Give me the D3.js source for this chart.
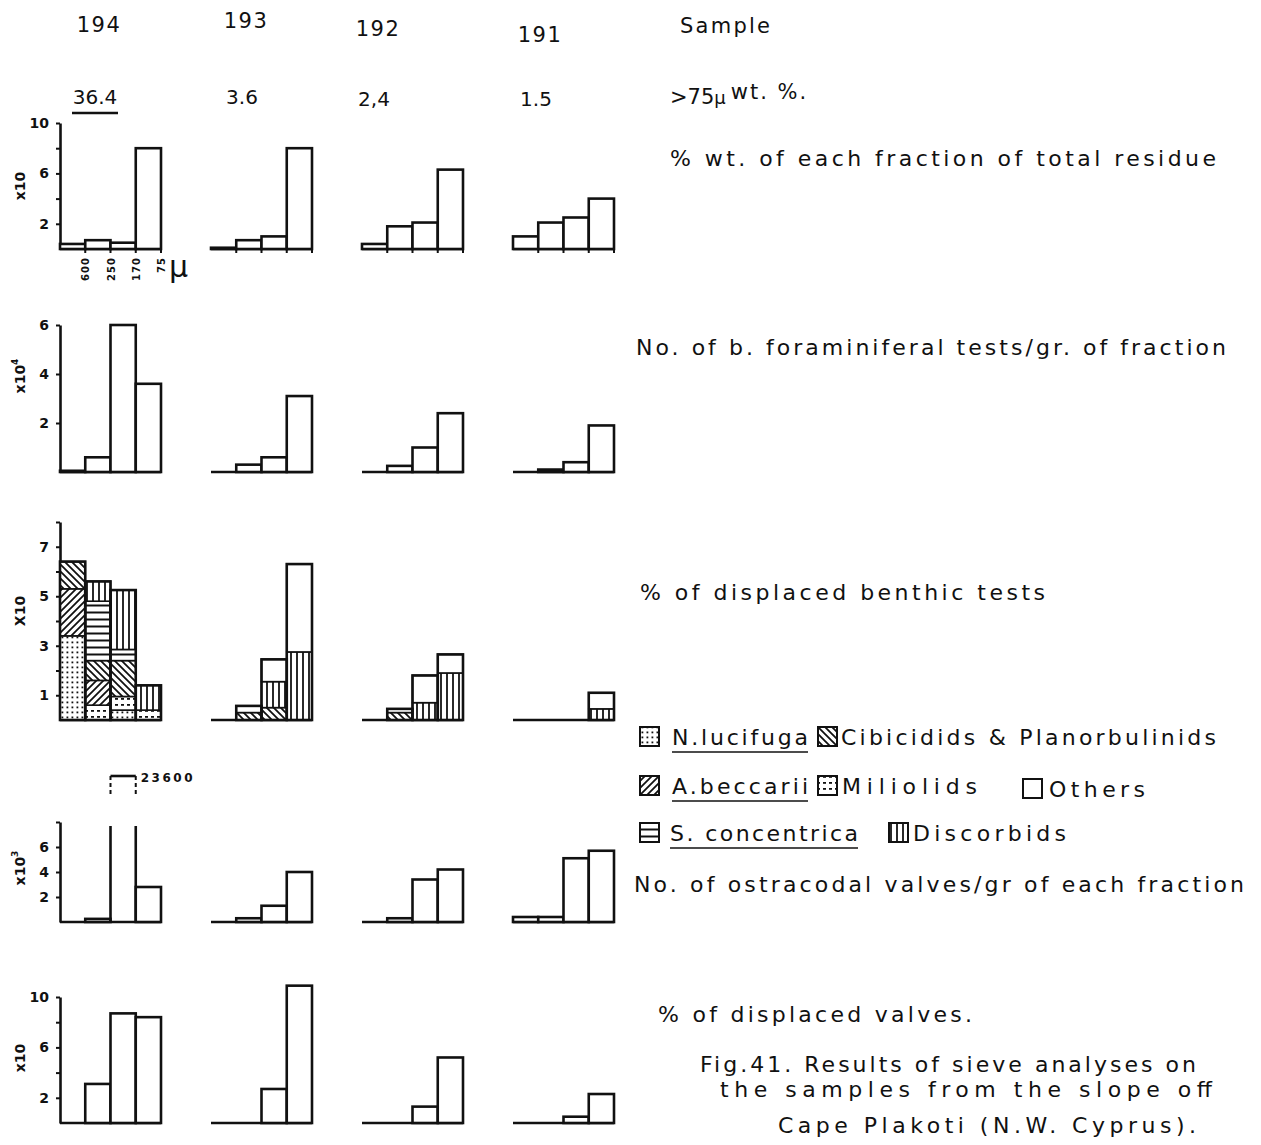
<!DOCTYPE html>
<html>
<head>
<meta charset="utf-8">
<script src="https://cdn.jsdelivr.net/npm/d3@7"></script>
<style>
  html, body { margin: 0; padding: 0; background: #fff; }
  svg { display: block; }
  text { font-family: "DejaVu Sans", "Liberation Sans", sans-serif; fill: #111; }
</style>
</head>
<body>
<svg id="fig" width="1261" height="1145"></svg>
<script>
// ---- data -------------------------------------------------------------
const samples = ["194", "193", "192", "191"];
const coarseWt = ["36.4", "3.6", "2,4", "1.5"];          // >75µ wt. %
const fractions = ["600", "250", "170", "75"];          // sieve sizes, µ

// % wt. of each fraction of total residue (x10), one row per sample
const residueWt = [
  [0.4, 0.7, 0.5, 8.0],
  [0.1, 0.7, 1.0, 8.0],
  [0.4, 1.8, 2.1, 6.3],
  [1.0, 2.1, 2.5, 4.0]
];
// No. of benthic foraminiferal tests / gr. of fraction (x10^4)
const foramTests = [
  [0.05, 0.6, 6.0, 3.6],
  [0, 0.3, 0.6, 3.1],
  [0, 0.25, 1.0, 2.4],
  [0, 0.1, 0.4, 1.9]
];
// % of displaced benthic tests (x10), split by group
const nLucifuga    = [[3.4, 0, 0.4, 0], [0, 0, 0, 0], [0, 0, 0, 0], [0, 0, 0, 0]];
const miliolids    = [[0, 0.6, 0.55, 0.4], [0, 0, 0, 0], [0, 0, 0, 0], [0, 0, 0, 0]];
const aBeccarii    = [[1.9, 1.0, 0, 0], [0, 0, 0, 0], [0, 0, 0, 0], [0, 0, 0, 0]];
const cibicidids   = [[1.1, 0.8, 1.45, 0], [0, 0.3, 0.5, 0], [0, 0.3, 0, 0], [0, 0, 0, 0]];
const sConcentrica = [[0, 2.4, 0.45, 0], [0, 0, 0, 0], [0, 0, 0, 0], [0, 0, 0, 0]];
const discorbids   = [[0, 0.8, 2.4, 1.0], [0, 0, 1.05, 2.75], [0, 0, 0.7, 1.9], [0, 0, 0, 0.45]];
const others       = [[0, 0, 0, 0], [0, 0.27, 0.9, 3.55], [0, 0.15, 1.1, 0.75], [0, 0, 0, 0.65]];
// No. of ostracodal valves / gr of each fraction (x10^3)
const ostracodValves = [
  [0, 0.25, 23.6, 2.8],
  [0, 0.3, 1.3, 4.0],
  [0, 0.3, 3.4, 4.2],
  [0.4, 0.4, 5.1, 5.7]
];
// % of displaced valves (x10)
const displacedValves = [
  [0, 3.1, 8.7, 8.4],
  [0, 0, 2.7, 10.9],
  [0, 0, 1.3, 5.2],
  [0, 0, 0.5, 2.3]
];

const groupKeys = ["nLucifuga", "miliolids", "aBeccarii", "cibicidids", "sConcentrica", "discorbids", "others"];
const groupData = { nLucifuga, miliolids, aBeccarii, cibicidids, sConcentrica, discorbids, others };

// ---- drawing ----------------------------------------------------------
const svg = d3.select("#fig");
const LW = 2.6;

// hatch patterns for the benthic groups
const defs = svg.append("defs");
function pattern(id, size, draw) {
  const p = defs.append("pattern").attr("id", id).attr("patternUnits", "userSpaceOnUse")
    .attr("width", size).attr("height", size);
  p.append("rect").attr("width", size).attr("height", size).attr("fill", "#fff");
  draw(p);
}
pattern("pDots", 5, p => p.append("rect").attr("x", 1.5).attr("y", 1.5).attr("width", 1.8).attr("height", 1.8).attr("fill", "#111"));
pattern("pFwd", 7, p => {
  p.append("path").attr("d", "M-1,8 L8,-1 M-2,2 L2,-2 M5,9 L9,5").attr("stroke", "#111").attr("stroke-width", 1.8);
});
pattern("pBack", 7, p => {
  p.append("path").attr("d", "M-1,-1 L8,8 M5,-2 L9,2 M-2,5 L2,9").attr("stroke", "#111").attr("stroke-width", 1.8);
});
pattern("pHoriz", 7, p => p.append("path").attr("d", "M0,3.5 H7").attr("stroke", "#111").attr("stroke-width", 2));
pattern("pVert", 6, p => p.append("path").attr("d", "M3,0 V6").attr("stroke", "#111").attr("stroke-width", 1.8));
pattern("pMil", 6, p => {
  p.append("rect").attr("x", 1).attr("y", 2).attr("width", 3).attr("height", 1.8).attr("fill", "#111");
});
const groupFill = {
  nLucifuga: "url(#pDots)", miliolids: "url(#pMil)", aBeccarii: "url(#pFwd)",
  cibicidids: "url(#pBack)", sConcentrica: "url(#pHoriz)", discorbids: "url(#pVert)", others: "#fff"
};

// panels: one per sample, four size fractions each
const panelX = d3.scaleLinear().domain([0, samples.length - 1]).range([60, 513]);
const panelW = 101;
function xScale(i) {
  return d3.scaleBand().domain(fractions).range([panelX(i), panelX(i) + panelW]);
}

// rows (layout); "breakAt" marks rows whose off-scale bars are drawn broken
const rows = [
  { data: residueWt, base: 249, top: 123, max: 10, ticks: [2, 4, 6, 8, 10], labels: [2, 6, 10], unit: "x10", sup: "", labelY: 186 },
  { data: foramTests, base: 472, top: 325, max: 6, ticks: [2, 4, 6], labels: [2, 4, 6], unit: "x10", sup: "4", labelY: 376 },
  { data: null, base: 720, top: 522, max: 8, ticks: [1, 2, 3, 4, 5, 6, 7, 8], labels: [1, 3, 5, 7], unit: "X10", sup: "", labelY: 611 },
  { data: ostracodValves, base: 922, top: 822, max: 8, ticks: [2, 4, 6, 8], labels: [2, 4, 6], unit: "x10", sup: "3", labelY: 868, breakAt: 8 },
  { data: displacedValves, base: 1123, top: 997, max: 10, ticks: [2, 4, 6, 8, 10], labels: [2, 6, 10], unit: "x10", sup: "", labelY: 1058 }
];

rows.forEach((row, r) => {
  const y = d3.scaleLinear().domain([0, row.max]).range([row.base, row.top]);
  const g = svg.append("g");

  // y axis on the first panel
  const ax = g.append("g").attr("transform", `translate(${panelX(0)},0)`)
    .call(d3.axisLeft(y).tickValues(row.ticks).tickSize(4).tickSizeOuter(0).tickPadding(7)
      .tickFormat(d => row.labels.includes(d) ? d : ""));
  ax.select(".domain").attr("stroke", "#111").attr("stroke-width", LW);
  ax.selectAll(".tick line").attr("stroke", "#111").attr("stroke-width", 2);
  ax.selectAll(".tick text").attr("font-size", 14).attr("font-weight", "bold")
    .attr("font-family", "DejaVu Sans, sans-serif").attr("fill", "#111");

  // unit label
  const ut = g.append("text").attr("transform", `translate(25,${row.labelY}) rotate(-90)`)
    .attr("text-anchor", "middle").attr("font-size", 14).attr("font-weight", "bold");
  ut.append("tspan").text(row.unit);
  if (row.sup) ut.append("tspan").attr("dy", -7).attr("font-size", 9).text(row.sup);

  samples.forEach((s, i) => {
    const x = xScale(i);
    const pg = g.append("g");
    // baseline
    pg.append("line").attr("x1", x.range()[0]).attr("x2", x.range()[1])
      .attr("y1", row.base).attr("y2", row.base).attr("stroke", "#111").attr("stroke-width", LW);

    if (r === 2) {
      // stacked groups of displaced benthic tests
      const table = fractions.map((f, k) => {
        const o = { fraction: f };
        groupKeys.forEach(key => { o[key] = groupData[key][i][k]; });
        return o;
      });
      const stack = d3.stack().keys(groupKeys)(table);
      stack.forEach(layer => {
        pg.selectAll(null).data(layer.filter(d => d[1] - d[0] > 0)).join("rect")
          .attr("x", d => x(d.data.fraction))
          .attr("width", x.bandwidth())
          .attr("y", d => y(d[1]))
          .attr("height", d => y(d[0]) - y(d[1]))
          .attr("fill", groupFill[layer.key])
          .attr("stroke", "#111").attr("stroke-width", 1.6);
      });
      // outline of each total
      table.forEach(d => {
        const tot = d3.sum(groupKeys, key => d[key]);
        if (tot <= 0) return;
        pg.append("rect").attr("x", x(d.fraction)).attr("width", x.bandwidth())
          .attr("y", y(tot)).attr("height", row.base - y(tot))
          .attr("fill", "none").attr("stroke", "#111").attr("stroke-width", LW);
      });
      return;
    }

    row.data[i].forEach((v, k) => {
      const f = fractions[k];
      if (v <= 0) return;
      if (row.breakAt && v > row.breakAt) {
        // off-scale bar: broken at the top of the axis
        const x0 = x(f), x1 = x(f) + x.bandwidth();
        const yc = y(row.breakAt * 0.96);
        const capY = yc - 50;
        pg.append("path").attr("d", `M${x0},${row.base} V${yc} M${x1},${row.base} V${yc}`)
          .attr("stroke", "#111").attr("stroke-width", LW).attr("fill", "none");
        pg.append("path").attr("d", `M${x0},${yc - 32} V${capY} M${x1},${yc - 32} V${capY}`)
          .attr("stroke", "#111").attr("stroke-width", 2).attr("stroke-dasharray", "4,3").attr("fill", "none");
        pg.append("path").attr("d", `M${x0},${capY} H${x1}`)
          .attr("stroke", "#111").attr("stroke-width", LW);
        pg.append("text").attr("x", x1 + 5).attr("y", capY + 6)
          .attr("font-size", 12).attr("font-weight", "bold").attr("letter-spacing", 2.5)
          .text(Math.round(v * 1000));
        return;
      }
      pg.append("rect").attr("x", x(f)).attr("width", x.bandwidth())
        .attr("y", y(v)).attr("height", row.base - y(v))
        .attr("fill", "#fff").attr("stroke", "#111").attr("stroke-width", LW);
    });

    if (r === 0) {
      // fraction boundary ticks under the first row
      pg.selectAll(null).data(fractions).join("line")
        .attr("x1", f => x(f) + x.bandwidth()).attr("x2", f => x(f) + x.bandwidth())
        .attr("y1", row.base).attr("y2", row.base + 4)
        .attr("stroke", "#111").attr("stroke-width", 2);
      if (i === 0) {
        pg.selectAll(null).data(fractions).join("text")
          .attr("transform", f => `translate(${x(f) + x.bandwidth() + 4},${row.base + 8}) rotate(-90)`)
          .attr("text-anchor", "end").attr("font-size", 10).attr("font-weight", "bold")
          .attr("letter-spacing", 1).text(f => f);
        pg.append("text").attr("x", x.range()[1] + 8).attr("y", row.base + 28)
          .attr("font-size", 30).text("µ");
      }
    }
  });
});

// ---- header: sample numbers and >75µ wt. % ----------------------------
const headX = [99, 246, 378, 540];
const headY = [32, 28, 36, 42];
const wtY = [104, 104, 106, 106];
samples.forEach((s, i) => {
  svg.append("text").attr("x", headX[i]).attr("y", headY[i]).attr("text-anchor", "middle")
    .attr("font-size", 21).attr("letter-spacing", 1.5).text(s);
  svg.append("text").attr("x", headX[i] - 4).attr("y", wtY[i]).attr("text-anchor", "middle")
    .attr("font-size", 20).text(coarseWt[i]);
});
svg.append("line").attr("x1", 72).attr("x2", 118).attr("y1", 113).attr("y2", 113)
  .attr("stroke", "#111").attr("stroke-width", 2.4);

// ---- right-hand captions ---------------------------------------------
function caption(x, y, str, len, size) {
  const t = svg.append("text").attr("x", x).attr("y", y).attr("font-size", size || 22).text(str);
  if (len) t.attr("textLength", len).attr("lengthAdjust", "spacing");
  return t;
}
caption(680, 33, "Sample", 90, 21);
const t75 = svg.append("text").attr("x", 670).attr("y", 104).attr("font-size", 21);
t75.append("tspan").text(">75");
t75.append("tspan").attr("font-size", 18).text("µ");
t75.append("tspan").attr("dx", 5).attr("dy", -5).attr("letter-spacing", 2).text("wt. %.");
caption(670, 166, "% wt. of each fraction of total residue", 546);
caption(636, 355, "No. of b. foraminiferal tests/gr. of fraction", 590);
caption(640, 600, "% of displaced benthic  tests", 405);
caption(634, 892, "No. of ostracodal valves/gr of each fraction", 610);
caption(658, 1022, "% of displaced valves.", 314);
caption(700, 1072, "Fig.41. Results of sieve    analyses on", 496);
caption(720, 1097, "the samples from the slope off", 492);
caption(778, 1133, "Cape Plakoti (N.W. Cyprus).", 418);

// ---- legend -----------------------------------------------------------
const legendItems = [
  { key: "nLucifuga", label: "N.lucifuga", bx: 640, by: 727, tx: 672, len: 136, ul: true },
  { key: "cibicidids", label: "Cibicidids & Planorbulinids", bx: 818, by: 727, tx: 841, len: 375 },
  { key: "aBeccarii", label: "A.beccarii", bx: 640, by: 776, tx: 672, len: 136, ul: true },
  { key: "miliolids", label: "Miliolids", bx: 818, by: 776, tx: 842, len: 135 },
  { key: "others", label: "Others", bx: 1023, by: 779, tx: 1049, len: 96 },
  { key: "sConcentrica", label: "S. concentrica", bx: 640, by: 823, tx: 670, len: 188, ul: true },
  { key: "discorbids", label: "Discorbids", bx: 889, by: 823, tx: 913, len: 153 }
];
legendItems.forEach(d => {
  svg.append("rect").attr("x", d.bx).attr("y", d.by).attr("width", 19).attr("height", 19)
    .attr("fill", groupFill[d.key]).attr("stroke", "#111").attr("stroke-width", 2);
  caption(d.tx, d.by + 18, d.label, d.len);
  if (d.ul) {
    svg.append("line").attr("x1", d.tx).attr("x2", d.tx + d.len)
      .attr("y1", d.by + 25).attr("y2", d.by + 25).attr("stroke", "#111").attr("stroke-width", 1.6);
  }
});
</script>
</body>
</html>
